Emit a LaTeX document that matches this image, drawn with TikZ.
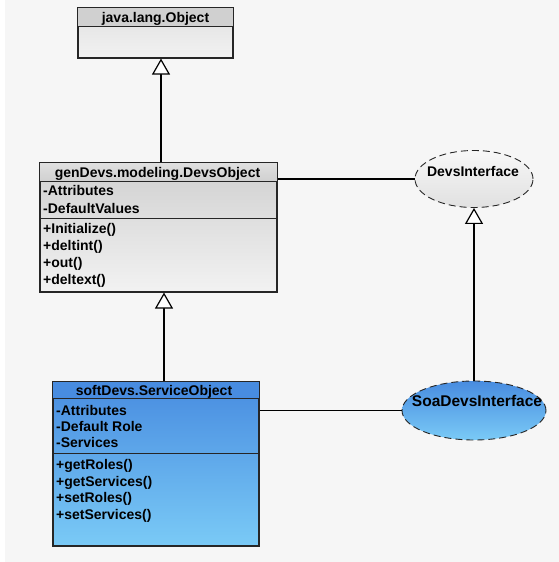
\documentclass[tikz,border=0pt]{standalone}
\usepackage{fontspec}
\setmainfont{Liberation Sans}
\usetikzlibrary{shapes.geometric,arrows.meta}

\definecolor{fundo}{RGB}{246,246,246}
\definecolor{cinzaA}{RGB}{208,208,208}
\definecolor{cinzaB}{RGB}{224,224,224}
\definecolor{cinzaC}{RGB}{242,242,242}
\definecolor{azulA}{RGB}{72,140,224}
\definecolor{azulB}{RGB}{122,202,246}

\tikzset{
  caixa/.style={draw=black!85, line width=1.2pt, inner sep=0pt},
  titulo/.style={font=\fontsize{14}{17}\selectfont\bfseries, anchor=base, inner sep=0pt},
  membro/.style={font=\fontsize{14}{17}\selectfont\bfseries, anchor=base west, inner sep=0pt},
  interface/.style={ellipse, draw=black!85, dash pattern=on 7pt off 4pt, line width=0.9pt, inner sep=0pt},
  heranca/.style={line width=1.2pt, -{Triangle[fill=white, length=16pt, width=18pt]}},
  ligacao/.style={line width=1.2pt}
}

\begin{document}
\begin{tikzpicture}[x=1pt,y=-1pt]
    % Fundo da figura
    \useasboundingbox (0,0) rectangle (559,562);
    \fill[white] (0,0) rectangle (559,562);
    \fill[fundo] (5,0) rectangle (559,562);
    % Classe java.lang.Object
    \node[caixa, minimum width=155pt, minimum height=50pt, top color=cinzaB, bottom color=cinzaC] (java) at (155.5,33) {};
    \draw[caixa, fill=cinzaA] (java.north west) rectangle ([yshift=-19pt]java.north east);
    \node[titulo] (javanome) at (155.5,23) {java.lang.Object};
    % Classe genDevs.modeling.DevsObject
    \node[caixa, minimum width=237pt, minimum height=129pt, top color=cinzaA, bottom color=cinzaC] (devs) at (158.5,227.5) {};
    \draw[caixa, top color=cinzaB, bottom color=cinzaA] (devs.north west) rectangle ([yshift=-19pt]devs.north east);
    \draw[caixa] ([yshift=-56pt]devs.north west) -- ([yshift=-56pt]devs.north east);
    \node[titulo] (devsnome) at (157.5,177) {genDevs.modeling.DevsObject};
    \node[membro] (devsa1) at (43,195.5) {-Attributes};
    \node[membro] (devsa2) at (43,213) {-DefaultValues};
    \node[membro] (devsm1) at (43,233.5) {+Initialize()};
    \node[membro] (devsm2) at (43,250) {+deltint()};
    \node[membro] (devsm3) at (43,267) {+out()};
    \node[membro] (devsm4) at (43,284) {+deltext()};
    % Classe softDevs.ServiceObject
    \node[caixa, minimum width=206pt, minimum height=164pt, top color=azulA, bottom color=azulB] (svc) at (156,464) {};
    \draw[caixa, fill=azulA] (svc.north west) rectangle ([yshift=-17pt]svc.north east);
    \draw[caixa] ([yshift=-72pt]svc.north west) -- ([yshift=-72pt]svc.north east);
    \node[titulo] (svcnome) at (154,395.5) {softDevs.ServiceObject};
    \node[membro] (svca1) at (56,415) {-Attributes};
    \node[membro] (svca2) at (56,431.5) {-Default Role};
    \node[membro] (svca3) at (56,447) {-Services};
    \node[membro] (svcm1) at (56,469) {+getRoles()};
    \node[membro] (svcm2) at (56,486) {+getServices()};
    \node[membro] (svcm3) at (56,502) {+setRoles()};
    \node[membro] (svcm4) at (56,519) {+setServices()};
    % Interfaces
    \node[interface, minimum width=118pt, minimum height=57pt, top color=gray!6, bottom color=gray!24] (devsif) at (474,179) {};
    \node[titulo] (devsifnome) at (473,176) {DevsInterface};
    \node[interface, minimum width=144pt, minimum height=59pt, top color=azulA, bottom color=azulB] (soa) at (474,410.5) {};
    \node[titulo, font=\fontsize{15.5}{17}\selectfont\bfseries] (soanome) at (477,406.5) {SoaDevsInterface};
    % Inserindo as ligacoes
    \draw[heranca] ([xshift=2.5pt]devs.north) -- ([xshift=2.5pt]devs.north |- java.south);
    \draw[heranca] ([xshift=8pt]svc.north) -- ([xshift=8pt]svc.north |- devs.south);
    \draw[heranca] (soa.north) -- (devsif.south);
    \draw[ligacao] (devs.east |- devsif.west) -- (devsif.west);
    \draw[ligacao] (svc.east |- soa.west) -- (soa.west);
\end{tikzpicture}
\end{document}
